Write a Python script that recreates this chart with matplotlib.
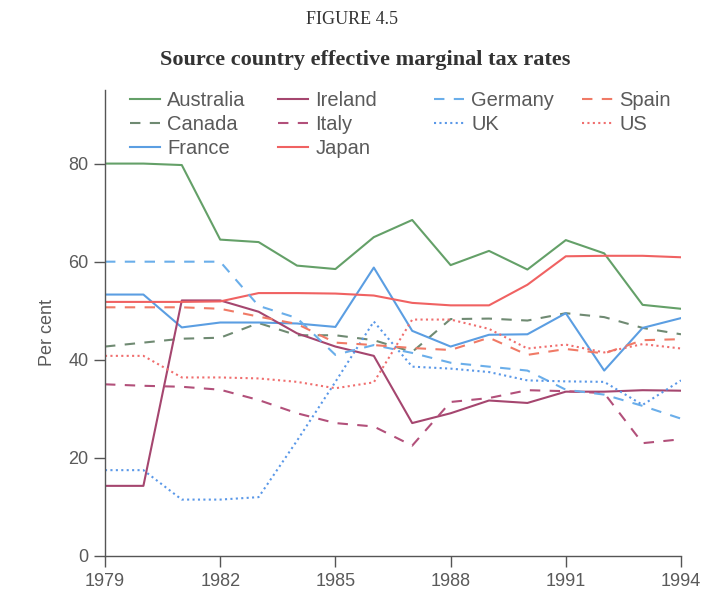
import matplotlib
matplotlib.use("Agg")
import matplotlib.pyplot as plt

years = list(range(1979, 1995))

australia = [80, 80, 79.7, 64.5, 64, 59.2, 58.5, 65, 68.5, 59.3, 62.2, 58.4, 64.4, 61.7, 51.2, 50.4]
canada = [42.7, 43.5, 44.3, 44.5, 47.5, 45, 45, 44, 41.6, 48.3, 48.4, 48, 49.5, 48.7, 46.5, 45.2]
france = [53.3, 53.3, 46.6, 47.6, 47.6, 47.4, 46.7, 58.8, 45.9, 42.7, 45.1, 45.2, 49.5, 37.8, 46.5, 48.5]
ireland = [14.3, 14.3, 52.1, 52.1, 49.8, 45.4, 42.7, 40.8, 27.1, 29.1, 31.7, 31.2, 33.5, 33.5, 33.8, 33.7]
italy = [35, 34.7, 34.5, 33.9, 31.8, 29.1, 27.1, 26.4, 22.5, 31.4, 32.2, 33.8, 33.6, 33.2, 23, 23.8]
japan = [51.8, 51.8, 51.8, 51.9, 53.6, 53.6, 53.5, 53.1, 51.6, 51.1, 51.1, 55.3, 61.1, 61.2, 61.2, 60.9]
germany = [60, 60, 60, 60, 51, 48.5, 41, 43, 41.4, 39.4, 38.6, 37.8, 33.9, 32.9, 30.6, 28]
uk = [17.5, 17.5, 11.5, 11.5, 12, 23.5, 35.5, 47.8, 38.6, 38.2, 37.5, 35.8, 35.6, 35.5, 30.8, 35.8]
spain = [50.7, 50.7, 50.7, 50.4, 48.8, 47.3, 43.5, 43, 42.4, 42, 44.5, 41, 42.2, 41.3, 44, 44.2]
us = [40.8, 40.8, 36.4, 36.4, 36.2, 35.5, 34.2, 35.4, 48.2, 48.2, 46.3, 42.3, 43.1, 41.5, 43.2, 42.3]

TXT = "#5a5a5a"
DASH = (0, (5, 4.5))
DOT = (0, (1, 1.6))

plt.rcParams["font.family"] = ["Liberation Sans", "DejaVu Sans"]

fig = plt.figure(figsize=(7.06, 5.96), dpi=100)
ax = fig.add_axes([105 / 706, 1 - 556 / 596, (681 - 105) / 706, (556 - 90) / 596])

# (label, data, colour, linestyle) in legend order
series = [
    ("Australia", australia, "#64a068", "-"),
    ("Canada", canada, "#6f8a72", DASH),
    ("France", france, "#5b9ee2", "-"),
    ("Ireland", ireland, "#a5466f", "-"),
    ("Italy", italy, "#b2507a", DASH),
    ("Japan", japan, "#f06262", "-"),
    ("Germany", germany, "#6aaeea", DASH),
    ("UK", uk, "#5a98e8", DOT),
    ("Spain", spain, "#f07a66", DASH),
    ("US", us, "#f06e6e", DOT),
]
handles = []
for name, vals, col, ls in series:
    h, = ax.plot(years, vals, color=col, linestyle=ls, linewidth=1.5, label=name)
    handles.append(h)

ax.set_xlim(1979, 1994)
ax.set_ylim(0, 95)
ax.set_xticks([1979, 1982, 1985, 1988, 1991, 1994])
ax.set_yticks([0, 20, 40, 60, 80])
for s in ["top", "right"]:
    ax.spines[s].set_visible(False)
for s in ["left", "bottom"]:
    ax.spines[s].set_color("#555555")
    ax.spines[s].set_linewidth(1.0)
ax.tick_params(direction="out", length=8, width=1, colors="#555555",
               labelsize=13, labelcolor=TXT, pad=4)
ax.set_ylabel("Per cent", fontsize=13, color=TXT)
ax.yaxis.set_label_coords(-0.085, 0.48)

leg_kw = dict(loc="upper left", frameon=False, fontsize=14.5, labelcolor=TXT,
              handlelength=1.5, handletextpad=0.35, labelspacing=0.25,
              borderaxespad=0, borderpad=0)
leg1 = fig.legend(handles[:6], [s[0] for s in series[:6]], ncol=2, columnspacing=1.6,
                  bbox_to_anchor=(130 / 706, 1 - 91 / 596), **leg_kw)
leg2 = fig.legend(handles[6:], [s[0] for s in series[6:]], ncol=2, columnspacing=1.4,
                  bbox_to_anchor=(434 / 706, 1 - 91 / 596), **leg_kw)

fig.text(352 / 706, 1 - 20 / 596, "FIGURE 4.5", ha="center", va="center",
         fontsize=13, family="Liberation Serif", color="#333333")
fig.text(365 / 706, 1 - 60 / 596, "Source country effective marginal tax rates",
         ha="center", va="center", fontsize=16, fontweight="bold",
         family="Liberation Serif", color="#333333")

fig.savefig("out.png", dpi=100, facecolor="white")
